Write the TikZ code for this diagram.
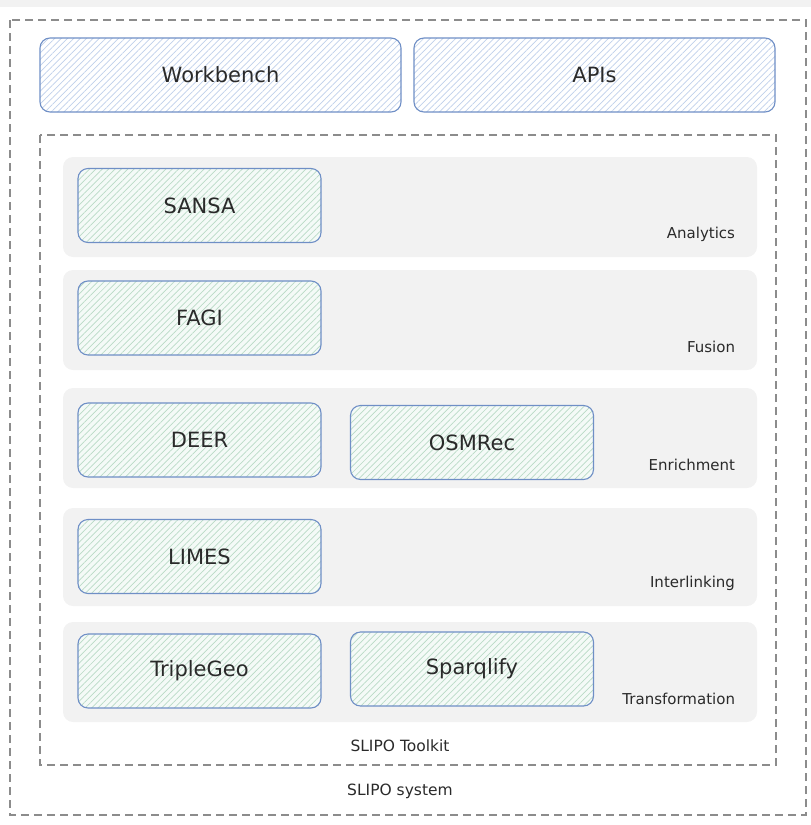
\documentclass[tikz,border=0pt]{standalone}
\usepackage{fontspec}
\setmainfont{DejaVu Sans}
\usetikzlibrary{patterns.meta}
\definecolor{apiedge}{HTML}{6F8FC6}
\definecolor{apihatch}{HTML}{BFD0EB}
\definecolor{compedge}{HTML}{6F8FC6}
\definecolor{comphatch}{HTML}{B9DAC6}
\definecolor{compfill}{HTML}{F4FAF7}
\definecolor{layerfill}{HTML}{F2F2F2}
\definecolor{frameline}{HTML}{8C8C8C}
\definecolor{txt}{HTML}{2A2A2A}
\tikzstyle{apibox}=[draw=apiedge,line width=1.1pt,rounded corners=10pt,
  minimum width=361pt,minimum height=74pt,font=\fontsize{21}{24}\selectfont,text=txt,
  preaction={fill=white},pattern={Lines[angle=45,distance=4.5pt,line width=0.7pt]},pattern color=apihatch]
\tikzstyle{comp}=[draw=compedge,line width=1.1pt,rounded corners=10pt,
  minimum width=243pt,minimum height=74pt,font=\fontsize{21}{24}\selectfont,text=txt,
  preaction={fill=compfill},pattern={Lines[angle=45,distance=4.5pt,line width=0.7pt]},pattern color=comphatch]
\tikzstyle{layer}=[fill=layerfill,rounded corners=10pt,minimum width=694pt,inner sep=0pt]
\tikzstyle{layerlab}=[anchor=east,font=\fontsize{15}{18}\selectfont,text=txt,inner sep=0pt]
\tikzstyle{frame}=[draw=frameline,line width=1.1pt,dash pattern=on 8pt off 5pt]
\tikzstyle{framelab}=[font=\fontsize{15.5}{18}\selectfont,text=txt,inner sep=0pt]

\begin{document}
\begin{tikzpicture}[x=1pt,y=-1pt]
    \useasboundingbox (0,0) rectangle (811,825);
    \fill[layerfill] (0,0) rectangle (811,7);
    % the two frames
    \draw[frame] (10,20) rectangle (806,815);
    \draw[frame] (40,135) rectangle (776,765);
    \node[framelab] (toolkit) at (400,746) {SLIPO Toolkit};
    \node[framelab] (system) at (400,791) {SLIPO system};
    % top row
    \node[apibox] (workbench) at (220.5,75) {Workbench};
    \node[apibox] (apis) at (594.5,75) {APIs};
    % layers of the toolkit
    \foreach \y/\h/\name/\lab in {207/100/analytics/Analytics, 320/100/fusion/Fusion,
        438/100/enrichment/Enrichment, 557/98/interlinking/Interlinking,
        672/100/transformation/Transformation}
    {
        \node[layer,minimum height=\h pt] (\name) at (410,\y) {};
        \node[layerlab] (\name-lab) at ([xshift=-22pt,yshift=23pt]\name.south east) {\lab};
    }
    % components
    \foreach \pos/\name/\lab in {{(199.5,205.5)/sansa/SANSA}, {(199.5,318)/fagi/FAGI},
        {(199.5,440)/deer/DEER}, {(472,442.5)/osmrec/OSMRec},
        {(199.5,556.5)/limes/LIMES}, {(199.5,671)/triplegeo/TripleGeo},
        {(472,669)/sparqlify/Sparqlify}}
        \node[comp] (\name) at \pos {\lab};
\end{tikzpicture}
\end{document}
